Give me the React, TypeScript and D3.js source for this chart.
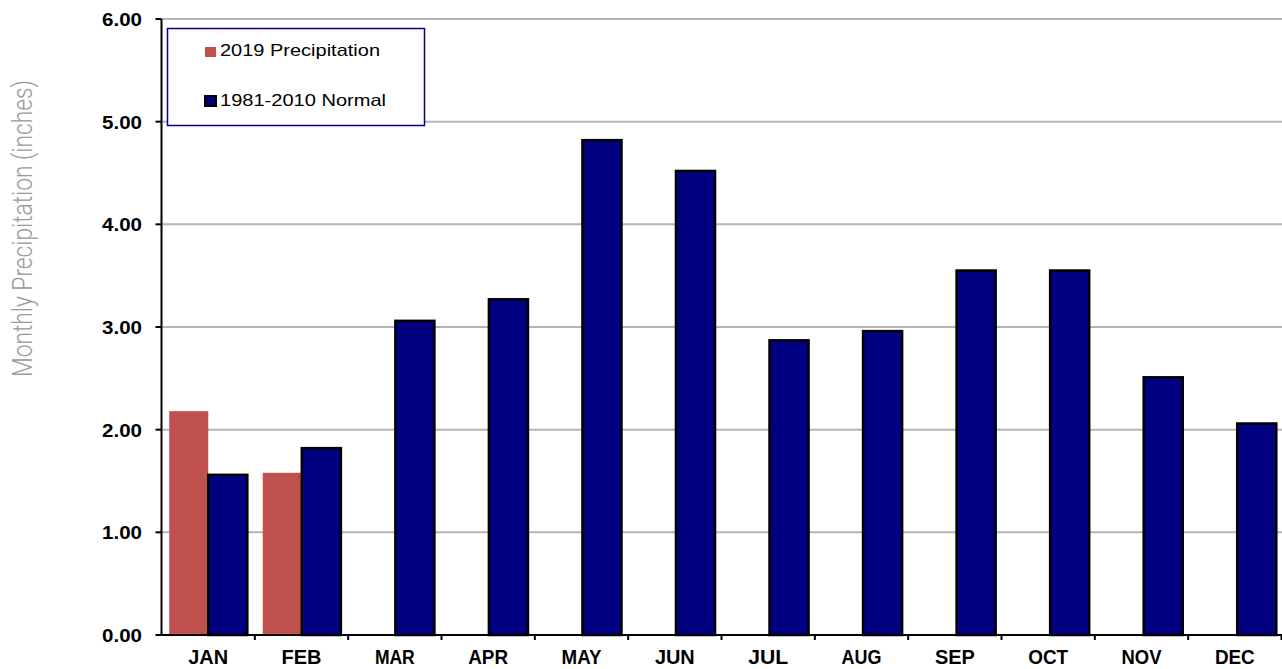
import React from "react";
import * as d3 from "d3";

const months = ["JAN", "FEB", "MAR", "APR", "MAY", "JUN", "JUL", "AUG", "SEP", "OCT", "NOV", "DEC"];
const precip2019: (number | null)[] = [2.18, 1.58, null, null, null, null, null, null, null, null, null, null];
const normal1981: number[] = [1.56, 1.82, 3.06, 3.27, 4.82, 4.52, 2.87, 2.96, 3.55, 3.55, 2.51, 2.06];
const yTicks = [0, 1, 2, 3, 4, 5, 6];
const seriesNames = ["2019 Precipitation", "1981-2010 Normal"];

const W = 1282;
const H = 669;
const left = 161.5;
const right = 1281.5;
const top = 19;
const bottom = 635;

export default function App() {
  const x = d3.scaleBand<string>().domain(months).range([left, right + 2.5]).paddingInner(0.165).paddingOuter(0.0825);
  const y = d3.scaleLinear().domain([0, 6]).range([bottom, top]);
  const bw = x.bandwidth() / 2;
  const band = d3.scaleBand<string>().domain(months).range([left, right]);
  const tickFont = "'Liberation Sans', Arial, sans-serif";

  return (
    <div style={{ position: "absolute", left: 0, top: 0 }}>
      <svg width={W} height={H} style={{ display: "block", background: "#fff" }}>
        {yTicks.map((t) => (
          <line key={"g" + t} x1={left} x2={W} y1={y(t)} y2={y(t)} stroke="#b4b4b4" strokeWidth={2} />
        ))}
        {months.map((m, i) =>
          precip2019[i] == null ? null : (
            <rect key={"r" + m} x={x(m)!} y={y(precip2019[i] as number)} width={bw} height={bottom - y(precip2019[i] as number)} fill="#C0504D" />
          )
        )}
        {months.map((m, i) => (
          <rect key={"n" + m} x={x(m)! + bw} y={y(normal1981[i])} width={bw} height={bottom - y(normal1981[i])} fill="#000080" stroke="#000" strokeWidth={2.5} />
        ))}
        <line x1={left} x2={left} y1={top} y2={bottom} stroke="#000" strokeWidth={2} />
        {yTicks.map((t) => (
          <g key={"yt" + t}>
            <line x1={left - 6} x2={left} y1={y(t)} y2={y(t)} stroke="#000" strokeWidth={2} />
            <text x={102} y={y(t) + 7} textLength={40} lengthAdjust="spacingAndGlyphs" fontFamily={tickFont} fontWeight="bold" fontSize={18} fill="#000">
              {d3.format(".2f")(t)}
            </text>
          </g>
        ))}
        <line x1={left} x2={W} y1={bottom} y2={bottom} stroke="#000" strokeWidth={2} />
        {months.map((m) => (
          <line key={"xt" + m} x1={band(m)! + band.bandwidth()} x2={band(m)! + band.bandwidth()} y1={bottom} y2={bottom + 5} stroke="#000" strokeWidth={2} />
        ))}
        {months.map((m) => (
          <text key={"xl" + m} x={band(m)! + band.bandwidth() / 2} y={664} textAnchor="middle" textLength={m.length * 13.3} lengthAdjust="spacingAndGlyphs" fontFamily={tickFont} fontWeight="bold" fontSize={21} fill="#000">
            {m}
          </text>
        ))}
        <rect x={167.5} y={28.5} width={257} height={97} fill="#fff" stroke="#00008B" strokeWidth={1.5} />
        <rect x={205} y={47} width={11} height={10} fill="#C0504D" />
        <text x={220} y={55.5} textLength={160} lengthAdjust="spacingAndGlyphs" fontFamily={tickFont} fontSize={16.5} fill="#000">{seriesNames[0]}</text>
        <rect x={205} y={96} width={11} height={10} fill="#000080" stroke="#000" strokeWidth={2} />
        <text x={220} y={106} textLength={166} lengthAdjust="spacingAndGlyphs" fontFamily={tickFont} fontSize={16.5} fill="#000">{seriesNames[1]}</text>
        <text transform={`translate(32,228.5) scale(1.3,1) rotate(-90)`} textAnchor="middle" textLength={297} lengthAdjust="spacingAndGlyphs" fontFamily="Roboto, sans-serif" fontWeight={300} fontSize={21.5} fill="#9a9a9a">
          Monthly Precipitation (inches)
        </text>
      </svg>
    </div>
  );
}
